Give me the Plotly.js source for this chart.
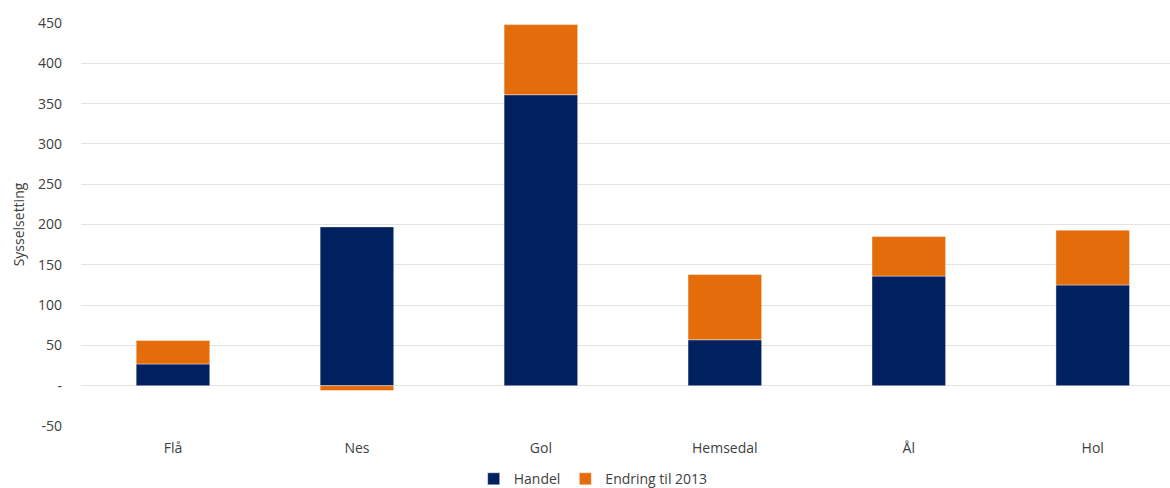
<!DOCTYPE html>
<html>
<head>
<meta charset="utf-8">
<script src="https://cdn.plot.ly/plotly-3.0.1.min.js"></script>
<style>html,body{margin:0;padding:0;overflow:hidden;background:#fff}</style>
</head>
<body>
<div id="chart" style="width:1170px;height:488px"></div>
<script>
const categories = ["Flå", "Nes", "Gol", "Hemsedal", "Ål", "Hol"];
const handel = [27, 197, 361, 57, 136, 125];
const endring = [29, -6, 87, 81, 49, 68];
const yTickVals = [-50, 0, 50, 100, 150, 200, 250, 300, 350, 400, 450];
const yTickText = ["-50", "-", "50", "100", "150", "200", "250", "300", "350", "400", "450"];

const font = {family: "Open Sans, Liberation Sans, sans-serif", size: 14, color: "#404040"};

const data = [
  {type: "bar", name: "Handel", x: categories, y: handel,
   marker: {color: "#002060", line: {color: "rgba(255,255,255,0.4)", width: 1}}},
  {type: "bar", name: "Endring til 2013", x: categories, y: endring,
   marker: {color: "#E46C0A", line: {color: "rgba(255,255,255,0.4)", width: 1}}}
];

const layout = {
  width: 1170, height: 488,
  barmode: "relative",
  bargap: 0.6,
  font: font,
  paper_bgcolor: "#fff", plot_bgcolor: "#fff",
  margin: {l: 81, r: 0, t: 23, b: 62},
  xaxis: {
    range: [-0.5, 5.42], showgrid: false, zeroline: false, showline: false,
    ticks: "", tickfont: font, ticklabelstandoff: 12, automargin: false
  },
  yaxis: {
    range: [-50, 450], tickvals: yTickVals, ticktext: yTickText,
    showgrid: true, gridcolor: "#e3e3e3", gridwidth: 1,
    zeroline: false, showline: false, ticks: "", tickfont: font,
    ticklabelstandoff: 18, automargin: false,
    title: {text: "Sysselsetting", font: font, standoff: 10}
  },
  legend: {orientation: "h", x: 0.507, xanchor: "center", xref: "container",
           y: 0.018, yanchor: "middle", yref: "container",
           font: font, traceorder: "normal", itemwidth: 30},
  showlegend: true
};

Plotly.newPlot("chart", data, layout, {displayModeBar: false, staticPlot: true});
</script>
</body>
</html>
